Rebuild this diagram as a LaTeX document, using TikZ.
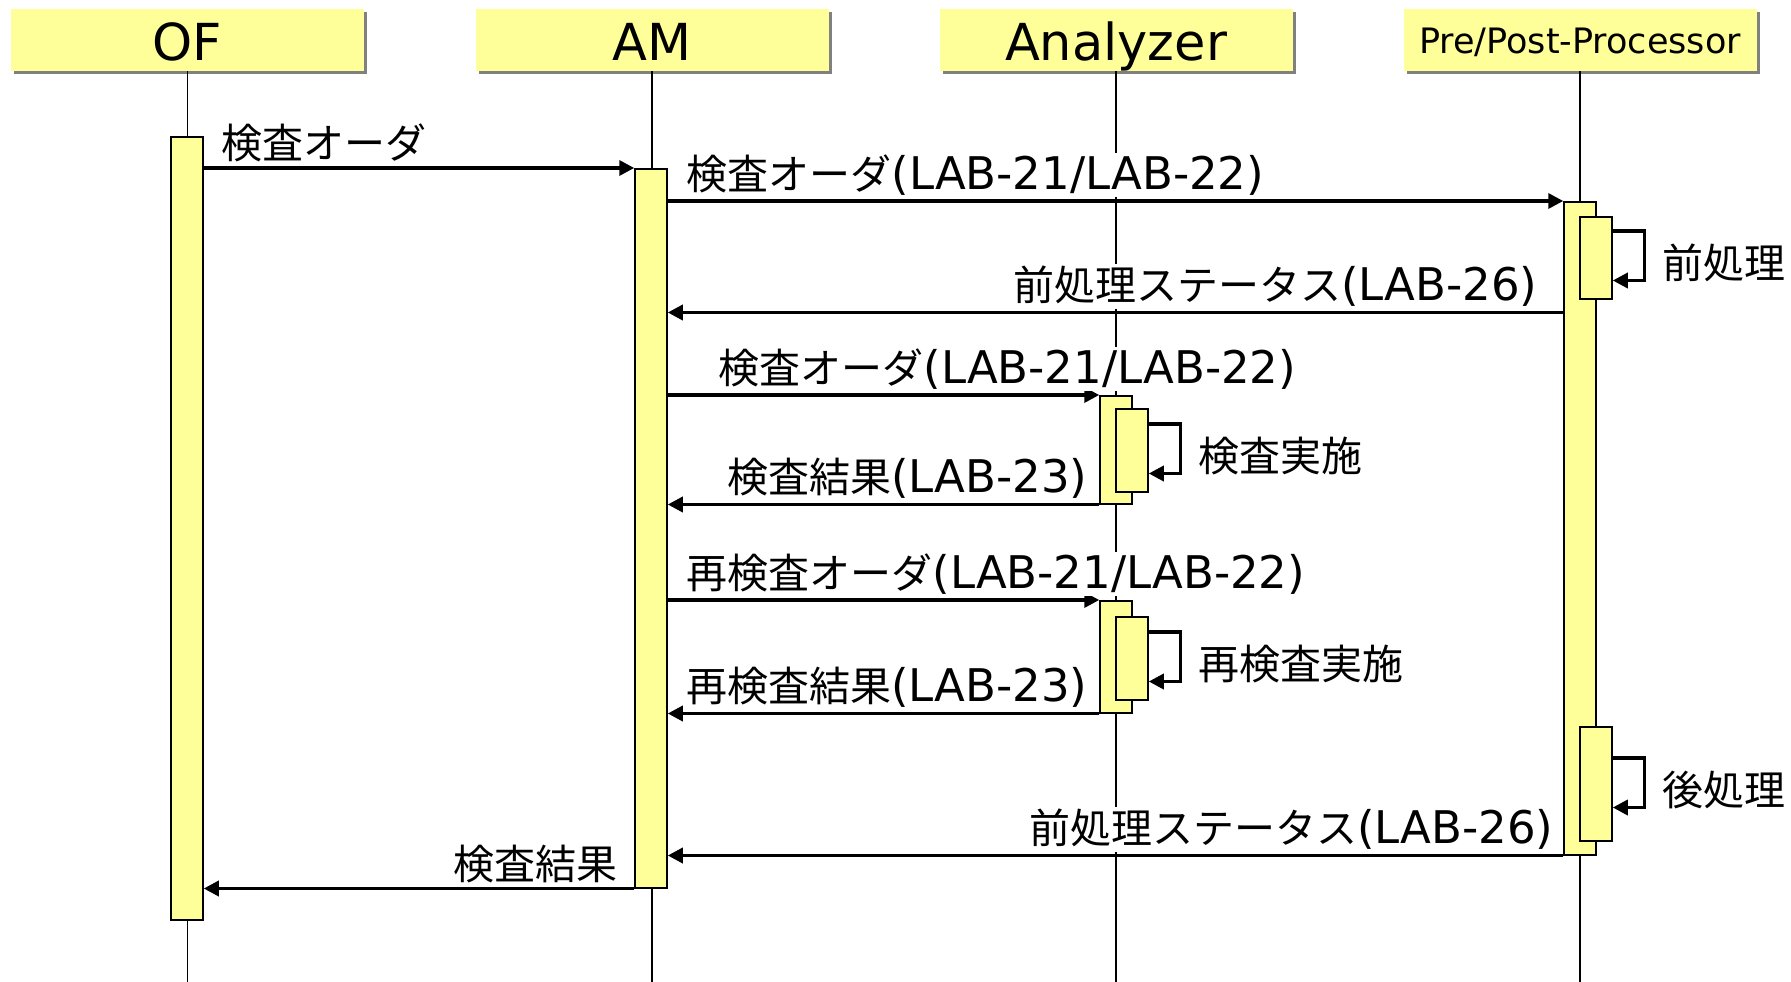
\documentclass[tikz,border=0pt]{standalone}
\usepackage{fontspec}
\setmainfont{DejaVu Sans}
\newfontfamily\jpfont{Noto Sans CJK JP}
\usetikzlibrary{arrows.meta}
\usetikzlibrary{shadows}
\definecolor{lineyellow}{RGB}{255,255,153}
\definecolor{shadowgray}{RGB}{128,128,128}
\newcommand{\ja}[1]{{\jpfont\fontsize{41}{48}\selectfont #1}}
\tikzset{
head/.style={ % Sets the properties for each lifeline head
fill=lineyellow,
minimum width=353pt,
minimum height=62pt,
inner sep=0pt,
text height=41.6pt,
text depth=0pt,
drop shadow={shadow xshift=3pt, shadow yshift=-3pt, fill=shadowgray, opacity=1},
font=\fontsize{51}{60}\selectfont},
life/.style={line width=1.8pt},
bar/.style={ % Activation bars
draw,
fill=lineyellow,
line width=1.5pt,
minimum width=32pt,
inner sep=0pt,
anchor=north},
msg/.style={ % Sets the properties for each message
line width=3.4pt,
-{Triangle[length=15pt,width=15pt]}},
lbl/.style={fill=white, inner sep=2pt, yshift=2pt, font=\fontsize{45}{54}\selectfont},
note/.style={inner sep=0pt, anchor=west, xshift=16pt, yshift=-7pt}}

\begin{document}
\begin{tikzpicture}[x=1pt, y=-1pt]
	\useasboundingbox (0,0) rectangle (1791,982);
	\node[head] (of) at (187.5,40) {OF};
	\node[head] (am) at (652,40) {AM};
	\node[head] (an) at (1116,40) {Analyzer};
	\node[head, font=\fontsize{35}{42}\selectfont, text height=27.7pt] (pp) at (1580,40) {Pre/Post-Processor};
	\coordinate (bottom) at (0,982);
	\draw[life] (of.south) -- (of.south |- bottom);
	\draw[life] (am.south) -- (am.south |- bottom);
	\draw[life] (an.south) -- (an.south |- bottom);
	\draw[life] (pp.south) -- (pp.south |- bottom);
	% activation bars
	\node[bar, minimum height=783pt] (ofbar) at (187,136) {};
	\node[bar, minimum height=719pt] (ambar) at (651,168) {};
	\node[bar, minimum height=653pt] (ppbar) at (1580,201) {};
	\node[bar, minimum height=82pt] (pppre) at (1596,216) {};
	\node[bar, minimum height=114pt] (pppost) at (1596,726) {};
	\node[bar, minimum height=108pt] (anbar1) at (1116,395) {};
	\node[bar, minimum height=83pt] (ansub1) at (1132,408) {};
	\node[bar, minimum height=112pt] (anbar2) at (1116,600) {};
	\node[bar, minimum height=83pt] (ansub2) at (1132,616) {};
	\coordinate (stat) at ([yshift=-13pt]pppre.south);
	% messages
	\draw[msg] (ofbar.east |- ambar.north) -- (ambar.north west)
		node[lbl, pos=0, anchor=south west, xshift=14pt] {\ja{検査オーダ}};
	\draw[msg] (ambar.east |- ppbar.north) -- (ppbar.north west)
		node[lbl, pos=0, anchor=south west, xshift=15pt] {\ja{検査オーダ}(LAB-21/LAB-22)};
	\draw[msg] ([yshift=-15pt]pppre.north east) -- ++(32,0) |- ([yshift=19pt]pppre.south east)
		node[note, pos=0.25] {\ja{前処理}};
	\draw[msg] (ppbar.west |- stat) -- (ambar.east |- stat)
		node[lbl, pos=0, anchor=south east, xshift=-22pt] {\ja{前処理ステータス}(LAB-26)};
	\draw[msg] (ambar.east |- anbar1.north) -- (anbar1.north west)
		node[lbl, pos=0, anchor=south west, xshift=47pt] {\ja{検査オーダ}(LAB-21/LAB-22)};
	\draw[msg] ([yshift=-16pt]ansub1.north east) -- ++(32,0) |- ([yshift=19pt]ansub1.south east)
		node[note, pos=0.25] {\ja{検査実施}};
	\draw[msg] (anbar1.south west) -- (ambar.east |- anbar1.south)
		node[lbl, pos=0, anchor=south east, xshift=-8pt] {\ja{検査結果}(LAB-23)};
	\draw[msg] (ambar.east |- anbar2.north) -- (anbar2.north west)
		node[lbl, pos=0, anchor=south west, xshift=15pt] {\ja{再検査オーダ}(LAB-21/LAB-22)};
	\draw[msg] ([yshift=-16pt]ansub2.north east) -- ++(32,0) |- ([yshift=19pt]ansub2.south east)
		node[note, pos=0.25] {\ja{再検査実施}};
	\draw[msg] (anbar2.south west) -- (ambar.east |- anbar2.south)
		node[lbl, pos=0, anchor=south east, xshift=-8pt] {\ja{再検査結果}(LAB-23)};
	\draw[msg] ([yshift=-32pt]pppost.north east) -- ++(32,0) |- ([yshift=34pt]pppost.south east)
		node[note, pos=0.25] {\ja{後処理}};
	\draw[msg] (ppbar.south west) -- (ambar.east |- ppbar.south)
		node[lbl, pos=0, anchor=south east, xshift=-6pt] {\ja{前処理ステータス}(LAB-26)};
	\draw[msg] (ambar.south west) -- (ofbar.east |- ambar.south)
		node[lbl, pos=0, anchor=south east, xshift=-13pt] {\ja{検査結果}};
\end{tikzpicture}
\end{document}
